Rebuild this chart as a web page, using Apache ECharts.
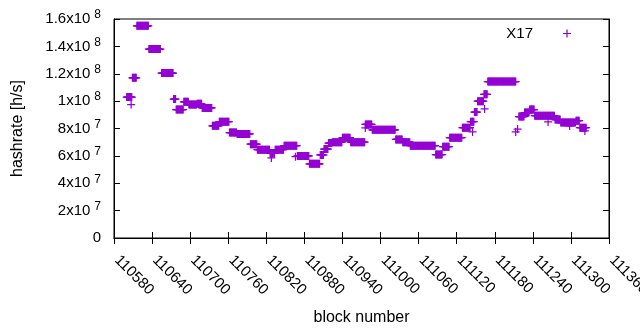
<!DOCTYPE html>
<html>
<head>
<meta charset="utf-8">
<script src="https://cdn.jsdelivr.net/npm/echarts@6/dist/echarts.min.js"></script>
<style>
  html, body { margin: 0; padding: 0; background: #fff; }
  #chart { width: 640px; height: 330px; }
</style>
</head>
<body>
<div id="chart"></div>
<script>
// runs of blocks with the same hashrate (start block, end block, h/s)
var segStart = [110600, 110609, 110616, 110635, 110655, 110674, 110678, 110690, 110698, 110711,
                110719, 110735, 110746, 110762, 110774, 110795, 110806, 110826, 110834, 110848,
                110869, 110888, 110905, 110911, 110918, 110924, 110940, 110953, 110964, 110976,
                110987, 111024, 111035, 111047, 111087, 111098, 111109, 111129, 111142, 111148,
                111153, 111163, 111169, 111218, 111227, 111235, 111243, 111275, 111284, 111308,
                111314];
var segEnd   = [110608, 110615, 110634, 110653, 110673, 110677, 110689, 110697, 110710, 110718,
                110734, 110745, 110761, 110773, 110794, 110805, 110825, 110833, 110847, 110868,
                110887, 110904, 110910, 110917, 110923, 110939, 110952, 110963, 110975, 110986,
                111023, 111034, 111046, 111086, 111097, 111108, 111128, 111141, 111147, 111152,
                111162, 111168, 111213, 111226, 111234, 111242, 111274, 111283, 111307, 111313,
                111324];
var segValue = [103e6, 117e6, 155e6, 138e6, 120.5e6, 101.5e6, 93.8e6, 99.5e6, 97.5e6, 98e6,
                95e6, 82e6, 85e6, 77e6, 76e6, 68.5e6, 64.5e6, 62e6, 64.5e6, 67.4e6,
                60e6, 54.2e6, 60.7e6, 65e6, 69.4e6, 70e6, 73.3e6, 70e6, 70e6, 83e6,
                79e6, 72e6, 70e6, 67.4e6, 61e6, 66.7e6, 73.3e6, 80.6e6, 85e6, 92e6,
                100e6, 105e6, 114.3e6, 88.7e6, 91.6e6, 93.8e6, 89.4e6, 86.5e6, 84.3e6, 85.7e6,
                80.6e6];

// single stray points
var strayBlock = [110607, 110828, 110866, 110976, 111145, 111164, 111213, 111216, 111264, 111298, 111322];
var strayValue = [97.5e6, 58.5e6, 59.4e6, 80.4e6, 77.5e6, 94.3e6, 77.5e6, 79.6e6, 84.8e6, 81.9e6, 78.2e6];

var xTicks = [110580, 110640, 110700, 110760, 110820, 110880, 110940, 111000, 111060, 111120, 111180, 111240, 111300, 111360];
var yTickValues = [0, 2e7, 4e7, 6e7, 8e7, 1e8, 1.2e8, 1.4e8, 1.6e8];
var yTickMant = ['0', '2', '4', '6', '8', '1', '1.2', '1.4', '1.6'];
var yTickExp  = ['',  '7', '7', '7', '7', '8', '8',   '8',   '8'];

var points = [];
for (var i = 0; i < segStart.length; i++) {
  for (var b = segStart[i]; b <= segEnd[i]; b++) {
    points.push([b, segValue[i]]);
  }
}
for (var j = 0; j < strayBlock.length; j++) {
  points.push([strayBlock[j], strayValue[j]]);
}

var plus = 'path://M0,3.8H3.8V0H5.2V3.8H9V5.2H5.2V9H3.8V5.2H0Z';
var font = 'Liberation Sans';

var chart = echarts.init(document.getElementById('chart'));
chart.setOption({
  animation: false,
  textStyle: { fontFamily: font },
  grid: {
    left: 114, right: 31, top: 19, bottom: 92,
    outerBoundsMode: 'none',
    show: true, borderColor: '#000', borderWidth: 1
  },
  legend: {
    data: ['X17'],
    right: 64,
    top: 21,
    align: 'right',
    itemWidth: 8,
    itemHeight: 8,
    textStyle: { fontFamily: font, fontSize: 15, color: '#000', padding: [0, 25, 0, 0] }
  },
  xAxis: [{
    type: 'value',
    min: 110580,
    max: 111360,
    interval: 60,
    name: 'block number',
    nameLocation: 'middle',
    nameGap: 72,
    nameTextStyle: { fontFamily: font, fontSize: 16, color: '#000' },
    axisLine: { lineStyle: { color: '#000' } },
    axisTick: { inside: true, length: 6, lineStyle: { color: '#000' } },
    splitLine: { show: false },
    axisLabel: {
      rotate: -45, margin: 17, padding: [0, 0, 0, 4],
      fontFamily: font, fontSize: 15, color: '#000',
      showMaxLabel: true, hideOverlap: false,
      formatter: function (v) { return xTicks.indexOf(v) >= 0 ? String(v) : ''; }
    }
  }, {
    type: 'value', position: 'top',
    min: 110580, max: 111360, interval: 60,
    axisLine: { lineStyle: { color: '#000' } },
    axisTick: { inside: true, length: 6, lineStyle: { color: '#000' } },
    axisLabel: { show: false }, splitLine: { show: false }
  }],
  yAxis: [{
    type: 'value',
    min: 0,
    max: 1.6e8,
    interval: 2e7,
    name: 'hashrate [h/s]',
    nameLocation: 'middle',
    nameGap: 88,
    nameTextStyle: { fontFamily: font, fontSize: 16, color: '#000' },
    axisLine: { lineStyle: { color: '#000' } },
    axisTick: { inside: true, length: 6, lineStyle: { color: '#000' } },
    splitLine: { show: false },
    axisLabel: {
      margin: 13, color: '#000',
      formatter: function (v) {
        var k = yTickValues.indexOf(v);
        if (k < 0) return '';
        if (!yTickExp[k]) return '{m|' + yTickMant[k] + '}';
        return '{m|' + yTickMant[k] + 'x10}{e|' + yTickExp[k] + '}';
      },
      rich: {
        m: { fontFamily: font, fontSize: 15, color: '#000' },
        e: { fontFamily: font, fontSize: 12, color: '#000', padding: [0, 0, 8, 4] }
      }
    }
  }, {
    type: 'value', position: 'right',
    min: 0, max: 1.6e8, interval: 2e7,
    axisLine: { show: true, lineStyle: { color: '#000' } },
    axisTick: { show: true, inside: true, length: 6, lineStyle: { color: '#000' } },
    axisLabel: { show: false }, splitLine: { show: false }
  }],
  series: [{
    name: 'X17',
    type: 'scatter',
    symbol: plus,
    symbolSize: 8,
    itemStyle: { color: '#9400d3', opacity: 1 },
    data: points
  }]
});
</script>
</body>
</html>
